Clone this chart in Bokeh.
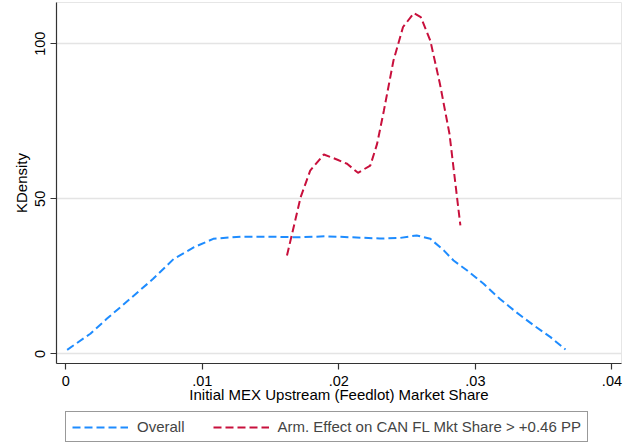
from bokeh.plotting import figure
from bokeh.layouts import column
from bokeh.models import FixedTicker, CustomJSTickFormatter, Legend, LegendItem, Range1d
from bokeh.embed import file_html
from bokeh.resources import INLINE

# Overall KDensity
overall_x = [0.0001, 0.0018, 0.0030, 0.0047, 0.0064, 0.0079, 0.0094, 0.0108, 0.0128,
             0.0150, 0.0170, 0.0190, 0.0210, 0.0230, 0.0245, 0.0257, 0.0267, 0.0277,
             0.0284, 0.0294, 0.0306, 0.0318, 0.0330, 0.0343, 0.0355, 0.0366]
overall_y = [1.3, 6.5, 11.3, 17.7, 24.2, 30.6, 34.4, 37.1, 37.8,
             37.8, 37.6, 37.9, 37.6, 37.2, 37.4, 38.2, 37.1, 33.3,
             30.1, 26.9, 22.6, 17.7, 13.4, 9.1, 5.4, 1.4]

# Arm. Effect on CAN FL Mkt Share > +0.46 PP
arm_x = [0.0162, 0.0172, 0.0179, 0.0189, 0.0199, 0.0206, 0.0214, 0.0223, 0.0228,
         0.0233, 0.0240, 0.0247, 0.0255, 0.0260, 0.0267, 0.0274, 0.0281, 0.0289]
arm_y = [31.7, 50.5, 59.1, 64.3, 62.6, 61.3, 58.4, 60.7, 67.7,
         78.5, 94.6, 105.4, 109.9, 108.6, 101.0, 87.1, 71.0, 41.4]

x_ticks = [0, 0.01, 0.02, 0.03, 0.04]
y_ticks = [0, 50, 100]
series_labels = ["Overall", "Arm. Effect on CAN FL Mkt Share > +0.46 PP"]

FONT = "Liberation Sans"
BLUE = "#1e8cff"
RED = "#c8103c"
DASH = "8 4"

p = figure(width=623, height=407, output_backend="svg", toolbar_location=None,
           x_range=Range1d(-0.00068, 0.0407), y_range=Range1d(-3.1, 113.3),
           min_border_left=56, min_border_right=2, min_border_top=2,
           min_border_bottom=44)
p.background_fill_color = "white"
p.border_fill_color = "white"
p.outline_line_color = "#e6e6e6"

p.line(overall_x, overall_y, line_color=BLUE, line_width=2, line_dash=DASH)
p.line(arm_x, arm_y, line_color=RED, line_width=2, line_dash=DASH)

p.xgrid.grid_line_color = None
p.ygrid.grid_line_color = "#e4e4e4"
p.ygrid.grid_line_width = 1.5

p.xaxis.ticker = FixedTicker(ticks=x_ticks)
p.xaxis.formatter = CustomJSTickFormatter(code="""
  if (Math.abs(tick) < 1e-12) return "0";
  return tick.toFixed(2).replace(/^0/, "");
""")
p.yaxis.ticker = FixedTicker(ticks=y_ticks)
p.yaxis.major_label_orientation = "vertical"

for ax in (p.xaxis, p.yaxis):
    ax.axis_line_color = "#333333"
    ax.axis_line_width = 1.2
    ax.major_tick_line_color = "#333333"
    ax.major_tick_line_width = 1.2
    ax.major_tick_out = 6
    ax.major_tick_in = 0
    ax.minor_tick_line_color = None
    ax.major_label_text_font = FONT
    ax.major_label_text_font_size = "14.5px"
    ax.major_label_text_color = "black"
    ax.axis_label_text_font = FONT
    ax.axis_label_text_font_size = "15px"
    ax.axis_label_text_font_style = "normal"
    ax.axis_label_text_color = "black"

p.xaxis.axis_label = "Initial MEX Upstream (Feedlot) Market Share"
p.yaxis.axis_label = "KDensity"
p.xaxis.major_label_standoff = 6
p.xaxis.axis_label_standoff = -3
p.yaxis.major_label_standoff = 5
p.yaxis.axis_label_standoff = 3

# Legend strip below the chart (lines kept outside its visible range)
lf = figure(width=623, height=38, output_backend="svg", toolbar_location=None,
            x_axis_type=None, y_axis_type=None,
            x_range=Range1d(0, 1), y_range=Range1d(1000, 1001),
            min_border_left=0, min_border_right=0, min_border_top=0, min_border_bottom=0)
lf.outline_line_color = None
lf.xgrid.grid_line_color = None
lf.ygrid.grid_line_color = None
l1 = lf.line(overall_x, overall_y, line_color=BLUE, line_width=2, line_dash=DASH)
l2 = lf.line(arm_x, arm_y, line_color=RED, line_width=2, line_dash=DASH)

legend = Legend(items=[LegendItem(label=series_labels[0], renderers=[l1]),
                       LegendItem(label=series_labels[1], renderers=[l2])],
                orientation="horizontal", location=(9, 3),
                label_text_font=FONT, label_text_font_size="15px",
                glyph_width=56, glyph_height=14, label_standoff=9, spacing=28,
                padding=6, margin=0, border_line_color="#333333", border_line_width=1.2,
                background_fill_alpha=1)
lf.add_layout(legend, "center")

layout = column(p, lf, spacing=0)
open("out.html", "w").write(file_html(layout, INLINE))
